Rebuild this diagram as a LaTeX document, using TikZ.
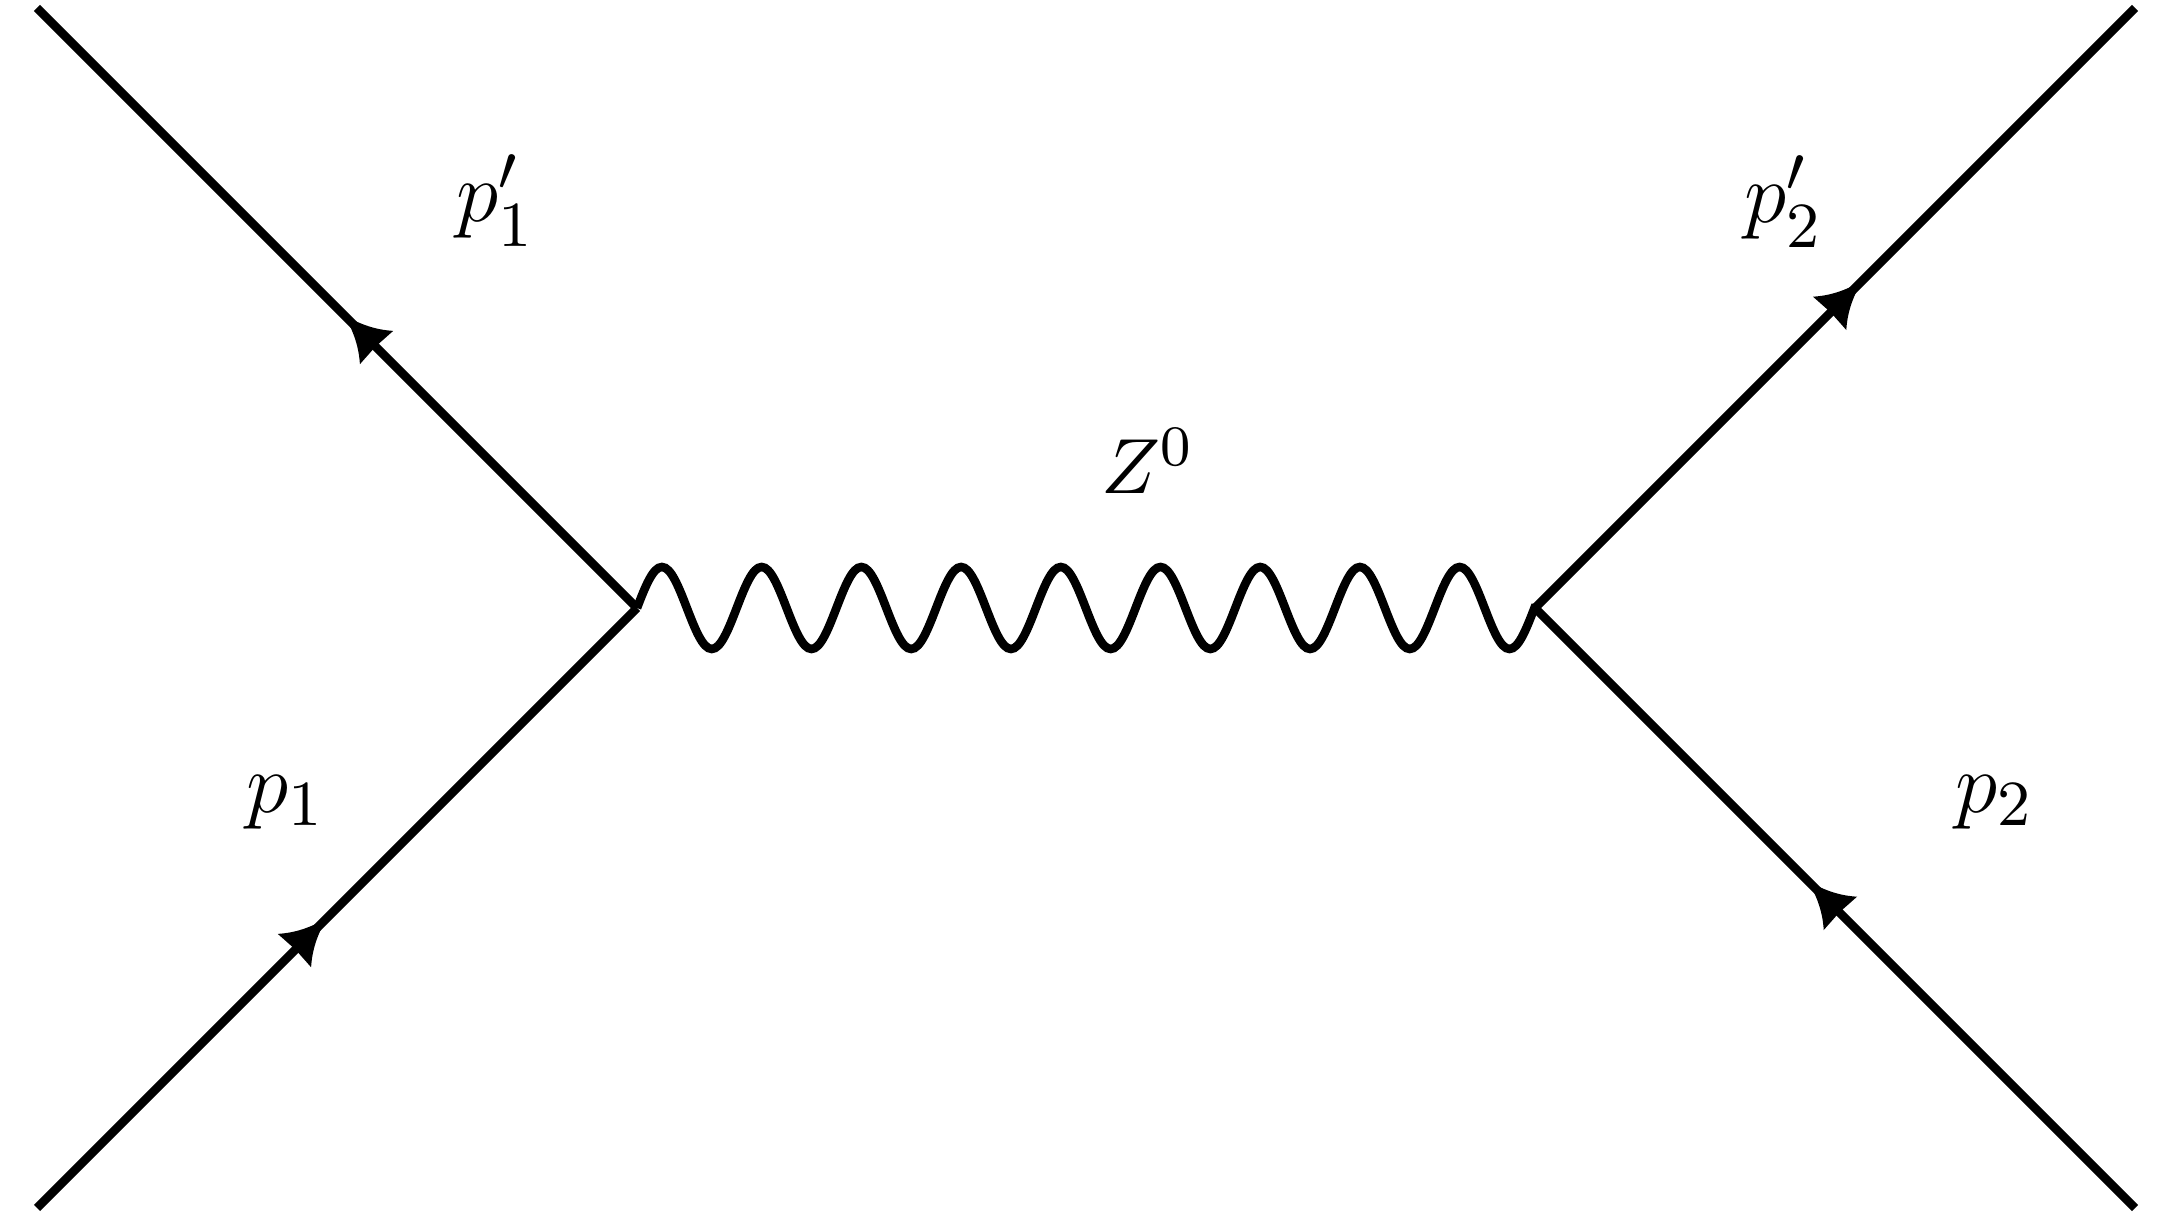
\documentclass[tikz,border=0pt]{standalone}
\usepackage{amsmath}
\usetikzlibrary{decorations,decorations.markings}

% sine wave, one full period per segment
\pgfdeclaredecoration{zwave}{period}{
  \state{period}[switch if less than=\pgfdecorationsegmentlength to final,
                 width=\pgfdecorationsegmentlength]{
    \pgfpathcurveto
      {\pgfqpoint{0.0815\pgfdecorationsegmentlength}{0.5123\pgfdecorationsegmentamplitude}}
      {\pgfqpoint{0.1595\pgfdecorationsegmentlength}{\pgfdecorationsegmentamplitude}}
      {\pgfqpoint{0.25\pgfdecorationsegmentlength}{\pgfdecorationsegmentamplitude}}
    \pgfpathcurveto
      {\pgfqpoint{0.3405\pgfdecorationsegmentlength}{\pgfdecorationsegmentamplitude}}
      {\pgfqpoint{0.4185\pgfdecorationsegmentlength}{0.5123\pgfdecorationsegmentamplitude}}
      {\pgfqpoint{0.5\pgfdecorationsegmentlength}{0pt}}
    \pgfpathcurveto
      {\pgfqpoint{0.5815\pgfdecorationsegmentlength}{-0.5123\pgfdecorationsegmentamplitude}}
      {\pgfqpoint{0.6595\pgfdecorationsegmentlength}{-\pgfdecorationsegmentamplitude}}
      {\pgfqpoint{0.75\pgfdecorationsegmentlength}{-\pgfdecorationsegmentamplitude}}
    \pgfpathcurveto
      {\pgfqpoint{0.8405\pgfdecorationsegmentlength}{-\pgfdecorationsegmentamplitude}}
      {\pgfqpoint{0.9185\pgfdecorationsegmentlength}{-0.5123\pgfdecorationsegmentamplitude}}
      {\pgfqpoint{\pgfdecorationsegmentlength}{0pt}}
  }
  \state{final}{\pgfpathlineto{\pgfpointdecoratedpathlast}}
}

% arrow head with hollow sides
\newcommand{\fermionhead}{%
  \fill (0pt,0pt) .. controls (-2.6pt,0.7pt) and (-4.6pt,1.7pt) .. (-6.4pt,3.3pt)
    -- (-6.2pt,0pt) -- (-6.4pt,-3.3pt)
    .. controls (-4.6pt,-1.7pt) and (-2.6pt,-0.7pt) .. cycle;}

\begin{document}
\begin{tikzpicture}[x=0.14pt, y=-0.14pt,
  fermion/.style={line width=1.2pt, postaction={decorate},
    decoration={markings, mark=at position #1 with {\fermionhead}}},
  fermion/.default=0.5,
  boson/.style={line width=1.2pt, decorate,
    decoration={zwave, segment length=13.96pt, amplitude=5.74pt}},
  plabel/.style={anchor=base west, inner sep=0pt, font=\fontsize{13}{15}\selectfont},
  zlabel/.style={anchor=base west, inner sep=0pt, font=\fontsize{11}{13}\selectfont}]

  \useasboundingbox (0,0) rectangle (2158,1217);

  % ---- Vertices and external ends ----
  \coordinate (vl) at (637,608);
  \coordinate (vr) at (1535,608);
  \coordinate (inl) at (37,1208);
  \coordinate (outl) at (37,8);
  \coordinate (outr) at (2135,8);
  \coordinate (inr) at (2135,1208);

  % ---- Fermion lines ----
  \draw[fermion=0.483] (inl) -- (vl);
  \draw[fermion=0.488] (vl) -- (outl);
  \draw[fermion=0.545] (vr) -- (outr);
  \draw[fermion=0.545] (inr) -- (vr);

  % ---- Z propagator ----
  \draw[boson] (vl) -- (vr);

  % ---- Momentum labels ----
  \node[plabel] (lp1) at (245,813) {$p_1$};
  \node[plabel] (lp1p) at (455,222) {$p'_1$};
  \node[plabel] (lp2p) at (1743,223) {$p'_2$};
  \node[plabel] (lp2) at (1954,813) {$p_2$};
  \node[zlabel] (lz) at (1100,494) {$Z^0$};

\end{tikzpicture}
\end{document}
